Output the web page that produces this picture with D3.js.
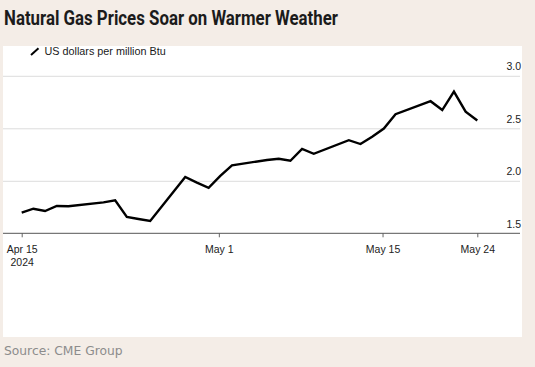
<!DOCTYPE html>
<html><head><meta charset="utf-8">
<script src="https://cdn.jsdelivr.net/npm/d3@7"></script>
<style>html,body{margin:0;padding:0;background:#f4ede7;}svg{display:block;}</style>
</head><body>
<svg id="chart" width="535" height="367"></svg>
<script>
const dates = ["2024-04-15","2024-04-16","2024-04-17","2024-04-18","2024-04-19","2024-04-22","2024-04-23","2024-04-24","2024-04-25","2024-04-26","2024-04-29","2024-04-30","2024-05-01","2024-05-02","2024-05-03","2024-05-06","2024-05-07","2024-05-08","2024-05-09","2024-05-10","2024-05-13","2024-05-14","2024-05-15","2024-05-16","2024-05-17","2024-05-20","2024-05-21","2024-05-22","2024-05-23","2024-05-24"];
const prices = [1.696,1.734,1.712,1.760,1.757,1.795,1.814,1.655,1.636,1.617,2.036,1.983,1.934,2.047,2.148,2.198,2.210,2.191,2.303,2.257,2.387,2.350,2.420,2.498,2.634,2.758,2.674,2.849,2.658,2.574];
const yTicks = [1.5, 2.0, 2.5, 3.0];
const xTickDates = ["2024-04-15T00:00","2024-05-01T21:00","2024-05-15T21:20","2024-05-24T00:00"];
const xTickLabels = [["Apr 15","2024"],["May 1"],["May 15"],["May 24"]];
const title = "Natural Gas Prices Soar on Warmer Weather";
const legendLabel = "US dollars per million Btu";
const source = "Source: CME Group";

const parse = d3.timeParse("%Y-%m-%d");
const parseT = d3.timeParse("%Y-%m-%dT%H:%M");
const data = dates.map((d,i)=>({date:parse(d), value:prices[i]}));

const svg = d3.select("#chart");
const W = 535, H = 367;
svg.append("rect").attr("width",W).attr("height",H).attr("fill","#f4ede7");
svg.append("rect").attr("x",3).attr("y",46).attr("width",519).attr("height",291).attr("fill","#ffffff");

svg.append("text").attr("x",4).attr("y",24.6).text(title)
  .attr("font-family","Roboto, 'Liberation Sans', sans-serif").attr("font-weight",700)
  .attr("font-size",20).attr("fill","#1b1b1b")
  .attr("textLength",334).attr("lengthAdjust","spacingAndGlyphs");

const x = d3.scaleTime().domain([parse(dates[0]), parse(dates[dates.length-1])]).range([21.7, 477.3]);
const y = d3.scaleLinear().domain([1.5, 3.0]).range([233.3, 75.8]);

const font = "'Liberation Sans', Arial, sans-serif";

// gridlines
const yAxis = d3.axisRight(y).tickValues(yTicks).tickSize(517).tickFormat(d3.format(".1f"));
const gy = svg.append("g").attr("transform","translate(3,0)").call(yAxis);
gy.select(".domain").remove();
gy.selectAll(".tick line").attr("stroke", d => d===1.5 ? "none" : "#dcdcdc").attr("stroke-width",1);
gy.selectAll(".tick text").attr("x",518).attr("dy","-6.3").attr("text-anchor","end")
  .attr("font-family",font).attr("font-size",10.5).attr("fill","#222");

// x axis
const xAxis = d3.axisBottom(x).tickValues(xTickDates.map(parseT)).tickSize(4).tickFormat("");
const gx = svg.append("g").attr("transform",`translate(0,${y(1.5)})`).call(xAxis);
gx.select(".domain").remove();
gx.append("line").attr("x1",3).attr("x2",520).attr("y1",0).attr("y2",0).attr("stroke","#555").attr("stroke-width",1);
gx.selectAll(".tick line").attr("stroke","#666");
gx.selectAll(".tick").each(function(d,i){
  const t = d3.select(this).append("text").attr("text-anchor","middle")
    .attr("font-family",font).attr("font-size",10.5).attr("fill","#222");
  xTickLabels[i].forEach((s,j)=>{ t.append("tspan").attr("x",0).attr("y",19.5+j*13).text(s); });
});

// line
const line = d3.line().x(d=>x(d.date)).y(d=>y(d.value));
svg.append("path").datum(data).attr("d",line).attr("fill","none").attr("stroke","#000")
  .attr("stroke-width",2.4).attr("stroke-linejoin","miter").attr("stroke-linecap","butt");

// legend
svg.append("line").attr("x1",31).attr("y1",55).attr("x2",38.5).attr("y2",48.3).attr("stroke","#000").attr("stroke-width",2);
svg.append("text").attr("x",44.5).attr("y",55).text(legendLabel)
  .attr("font-family",font).attr("font-size",10.8).attr("fill","#1a1a1a");

// source
svg.append("text").attr("x",4).attr("y",355).text(source)
  .attr("font-family","'DejaVu Sans', Verdana, sans-serif").attr("font-size",12.3).attr("fill","#8c8c8c");
</script>
</body></html>
